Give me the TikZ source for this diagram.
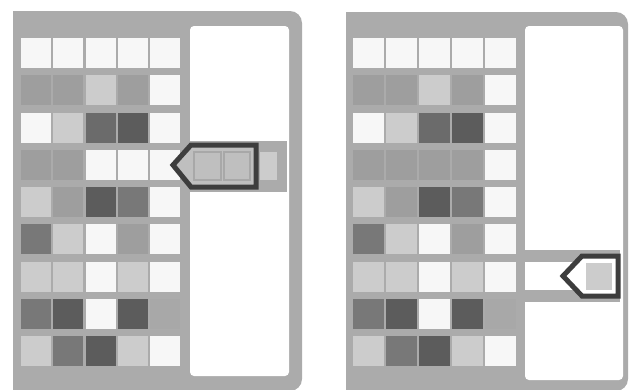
\documentclass[tikz,border=0pt]{standalone}
\usepackage{xcolor}
\usepackage{tikz}

\definecolor{cW}{gray}{0.97}
\definecolor{cL}{gray}{0.80}
\definecolor{cM}{gray}{0.62}
\definecolor{cB}{gray}{0.66}
\definecolor{cS}{gray}{0.47}
\definecolor{cD}{gray}{0.42}
\definecolor{cK}{gray}{0.36}
\definecolor{cP}{gray}{0.75}
\definecolor{panelgray}{gray}{0.67}
\definecolor{pencilgray}{gray}{0.24}

\begin{document}
\begin{tikzpicture}[x=1pt,y=-1pt]
	 \tikzstyle{cell}=[rectangle,minimum width=30pt,minimum height=30pt,inner sep=0pt,outer sep=0pt]
	 \tikzstyle{tray}=[fill=white,rounded corners=4pt]
	 \tikzstyle{pencil}=[draw=pencilgray,line width=5pt,line join=miter]
	 \useasboundingbox (0,0) rectangle (633,389);
	 \clip (0,0) rectangle (633,389);
	 % left panel
	 \fill[panelgray] (13,391) -- (13,11) [rounded corners=12pt] -- (302,11) -- (302,391) [sharp corners] -- cycle;
	 \fill[tray] (190,26) rectangle (289,376);
	 \foreach \row/\shades in {1/{W,W,W,W,W},2/{M,M,L,M,W},3/{W,L,D,K,W},4/{M,M,W,W,W},5/{L,M,K,S,W},
	                          6/{S,L,W,M,W},7/{L,L,W,L,W},8/{S,K,W,K,B},9/{L,S,K,L,W}}
	   \foreach \s [count=\col] in \shades
	     \node[cell,fill=c\s] (a-\row-\col) at ({36+32.3*(\col-1)},{53+37.25*(\row-1)}) {};
	 % right panel
	 \fill[panelgray] (346,391) -- (346,12) [rounded corners=12pt] -- (628,12) -- (628,391) [sharp corners] -- cycle;
	 \fill[tray] (525,26) rectangle (623,380);
	 \foreach \row/\shades in {1/{W,W,W,W,W},2/{M,M,L,M,W},3/{W,L,D,K,W},4/{M,M,M,M,W},5/{L,M,K,S,W},
	                          6/{S,L,W,M,W},7/{L,L,W,L,W},8/{S,K,W,K,B},9/{L,S,K,L,W}}
	   \foreach \s [count=\col] in \shades
	     \node[cell,minimum width=31pt,fill=c\s] (b-\row-\col) at ({368.5+33*(\col-1)},{53+37.25*(\row-1)}) {};
	 % pencil on the left
	 \fill[panelgray] (186,141) rectangle (287,192);
	 \node[cell,minimum width=17pt,minimum height=28pt,fill=cL] (a-rest) at (268.5,166) {};
	 \filldraw[pencil,fill=cP] (173,165) -- (191,145) -- (256,145) -- (256,187) -- (191,187) -- cycle;
	 \node[cell,minimum width=27pt,minimum height=28pt,fill=cP,draw=cB,line width=1.5pt] (a-pen-1) at (207.5,166) {};
	 \node[cell,minimum width=26pt,minimum height=28pt,fill=cP,draw=cB,line width=1.5pt] (a-pen-2) at (237,166) {};
	 % pencil on the right
	 \fill[panelgray] (525,250) rectangle (620,262);
	 \fill[panelgray] (525,290) rectangle (620,302);
	 \filldraw[pencil,fill=white] (563,276) -- (582,256) -- (618,256) -- (618,296) -- (582,296) -- cycle;
	 \node[cell,minimum width=26pt,minimum height=27pt,fill=cL] (b-pen-1) at (599,276.5) {};
 \end{tikzpicture}
\end{document}
